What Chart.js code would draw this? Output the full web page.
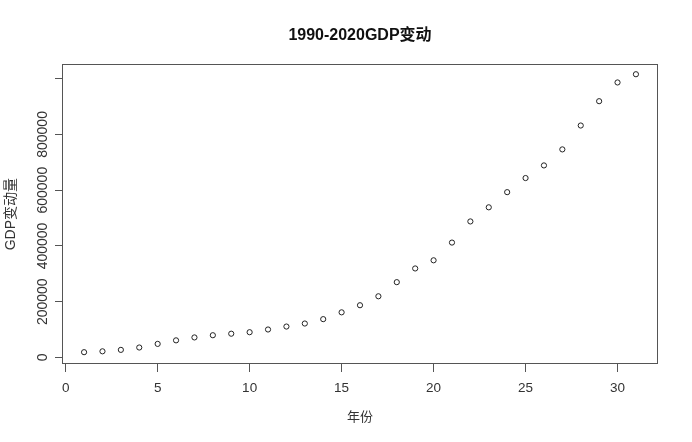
<!DOCTYPE html>
<html>
<head>
<meta charset="utf-8">
<script src="https://cdn.jsdelivr.net/npm/chart.js@4/dist/chart.umd.min.js"></script>
<style>
  html, body { margin: 0; padding: 0; background: #ffffff; }
  #wrap { width: 692px; height: 442px; }
</style>
</head>
<body>
<div id="wrap"><canvas id="c" width="692" height="442"></canvas></div>
<script>
// ---- data ----
const years = [1,2,3,4,5,6,7,8,9,10,11,12,13,14,15,16,17,18,19,20,21,22,23,24,25,26,27,28,29,30,31];
const gdp = [18873,22006,27195,35673,48638,61340,71814,79715,85196,90564,100280,110863,121717,137422,161840,187319,219439,270092,319245,348518,412119,487940,538580,592963,643563,688858,746395,832036,919281,986515,1015986];
const xTicks = [0,5,10,15,20,25,30];
const yTicks = [0,200000,400000,600000,800000,1000000];
const yTickLabels = ['0','200000','400000','600000','800000',''];
const titleText = '1990-2020GDP变动';
const xTitle = '年份';
const yTitle = 'GDP变动量';

const FONT = '"Liberation Sans", Arial, "Noto Sans CJK SC", sans-serif';

// axis limits (R-style padding around the data)
const xMin = -0.2, xMax = 32.2;
const yMin = -23500, yMax = 1052000;

const points = years.map((x, i) => ({ x: x, y: gdp[i] }));

const boxAndLabels = {
  id: 'boxAndLabels',
  afterDraw(chart) {
    const ctx = chart.ctx, a = chart.chartArea;
    ctx.save();
    ctx.strokeStyle = '#555555';
    ctx.lineWidth = 1;
    ctx.strokeRect(Math.round(a.left) + 0.5, Math.round(a.top) + 0.5,
                   Math.round(a.right - a.left) - 1, Math.round(a.bottom - a.top) - 1);
    // y tick labels, rotated like R (las=0)
    const ys = chart.scales.y;
    ctx.fillStyle = '#333333';
    ctx.font = '14px ' + FONT;
    ctx.textAlign = 'center';
    ctx.textBaseline = 'middle';
    yTicks.forEach((v, i) => {
      const lbl = yTickLabels[i];
      if (!lbl) return;
      const py = ys.getPixelForValue(v);
      ctx.save();
      ctx.translate(43, py);
      ctx.rotate(-Math.PI / 2);
      ctx.fillText(lbl, 0, 0);
      ctx.restore();
    });
    ctx.restore();
  }
};

new Chart(document.getElementById('c'), {
  type: 'scatter',
  data: {
    datasets: [{
      data: points,
      showLine: false,
      pointStyle: 'circle',
      pointRadius: 2.6,
      pointHoverRadius: 2.6,
      pointBorderWidth: 1,
      pointBackgroundColor: 'rgba(0,0,0,0)',
      pointBorderColor: '#222222'
    }]
  },
  options: {
    responsive: false,
    animation: false,
    devicePixelRatio: 1,
    layout: { padding: { left: 0, right: 34, top: 0, bottom: 0 } },
    plugins: {
      legend: { display: false },
      tooltip: { enabled: false },
      title: {
        display: true,
        fullSize: false,
        text: titleText,
        color: '#111111',
        font: { family: FONT, size: 16, weight: 'bold', lineHeight: 1.2 },
        padding: { top: 26, bottom: 19 }
      }
    },
    scales: {
      x: {
        type: 'linear',
        min: xMin,
        max: xMax,
        afterBuildTicks: s => { s.ticks = xTicks.map(v => ({ value: v })); },
        afterFit: s => { s.height = 78; },
        border: { display: false },
        grid: { display: true, drawOnChartArea: false, drawTicks: true, tickLength: 8, color: '#555555', lineWidth: 1 },
        ticks: { color: '#333333', font: { family: FONT, size: 13.5 }, padding: 8, maxRotation: 0, minRotation: 0 },
        title: { display: true, text: xTitle, color: '#333333', font: { family: FONT, size: 13 }, padding: { top: 17, bottom: 17 } }
      },
      y: {
        type: 'linear',
        min: yMin,
        max: yMax,
        afterBuildTicks: s => { s.ticks = yTicks.map(v => ({ value: v })); },
        afterFit: s => { s.width = 62; },
        border: { display: false },
        grid: { display: true, drawOnChartArea: false, drawTicks: true, tickLength: 7, color: '#555555', lineWidth: 1 },
        ticks: { display: false },
        title: { display: true, text: yTitle, color: '#333333', font: { family: FONT, size: 14 }, padding: { top: 3, bottom: 3 } }
      }
    }
  },
  plugins: [boxAndLabels]
});
</script>
</body>
</html>
